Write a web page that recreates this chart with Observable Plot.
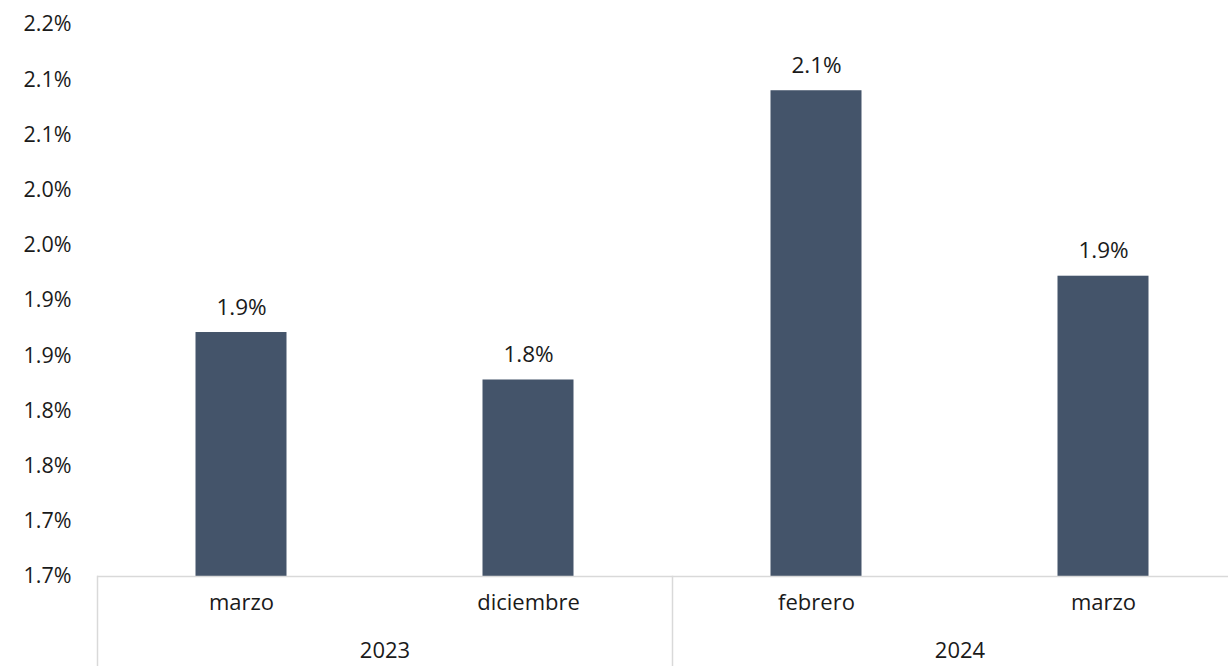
<!DOCTYPE html>
<html><head><meta charset="utf-8">
<script src="https://cdn.jsdelivr.net/npm/d3@7"></script>
<script src="https://cdn.jsdelivr.net/npm/@observablehq/plot@0.6"></script>
<style>
html,body{margin:0;padding:0;background:#fff;overflow:hidden;}
</style></head><body><div id="chart"></div>
<script>
const years = ["2023", "2023", "2024", "2024"];
const months = ["marzo", "diciembre", "febrero", "marzo"];
const values = [1.871, 1.828, 2.090, 1.922];
const yTicks = [1.65, 1.70, 1.75, 1.80, 1.85, 1.90, 1.95, 2.00, 2.05, 2.10, 2.15];
const yTickLabels = ["1.7%", "1.7%", "1.8%", "1.8%", "1.9%", "1.9%", "2.0%", "2.0%", "2.1%", "2.1%", "2.2%"];
const yearGroups = ["2023", "2024"];

const data = values.map((v, i) => ({
  year: years[i],
  month: months[i],
  slot: String(years.slice(0, i).filter(y => y === years[i]).length),
  value: v,
  label: v.toFixed(1) + "%"
}));

const W = 1228, H = 666, mT = 24, mB = 90, mL = 96.5, mR = -19;
const ink = "#1a1a1a", grid = "#d9d9d9";

const chart = Plot.plot({
  width: W, height: H,
  marginTop: mT, marginBottom: mB, marginLeft: mL, marginRight: mR,
  style: {fontFamily: "'Open Sans', sans-serif", fontSize: "22px", color: ink, background: "#fff", overflow: "visible"},
  fx: {domain: yearGroups, padding: 0, axis: null, label: null},
  x: {domain: ["0", "1"], paddingInner: 0.683, paddingOuter: 0.3415, axis: null},
  y: {domain: [yTicks[0], yTicks[yTicks.length - 1]], axis: null},
  marks: [
    Plot.axisY(yTicks, {
      tickFormat: d => yTickLabels[yTicks.indexOf(d)],
      tickSize: 0, tickPadding: 26, label: null, fill: ink, fontSize: 21.5
    }),
    Plot.barY(data, {fx: "year", x: "slot", y1: yTicks[0], y2: "value", fill: "#44546a"}),
    Plot.ruleY([yTicks[0]], {stroke: grid, strokeWidth: 1.5}),
    Plot.frame({anchor: "left", stroke: grid, strokeWidth: 1.5, insetTop: H - mT - mB, insetBottom: -mB}),
    Plot.text(data, {fx: "year", x: "slot", y: "value", text: "label", dy: -25, fill: ink, fontSize: 22.5}),
    Plot.text(data, {fx: "year", x: "slot", text: "month", frameAnchor: "bottom", dy: 33, fill: ink, fontSize: 22}),
    Plot.text(yearGroups, {fx: d => d, text: d => d, frameAnchor: "bottom", dy: 81, fill: ink, fontSize: 22})
  ]
});
document.getElementById("chart").appendChild(chart);
</script></body></html>
